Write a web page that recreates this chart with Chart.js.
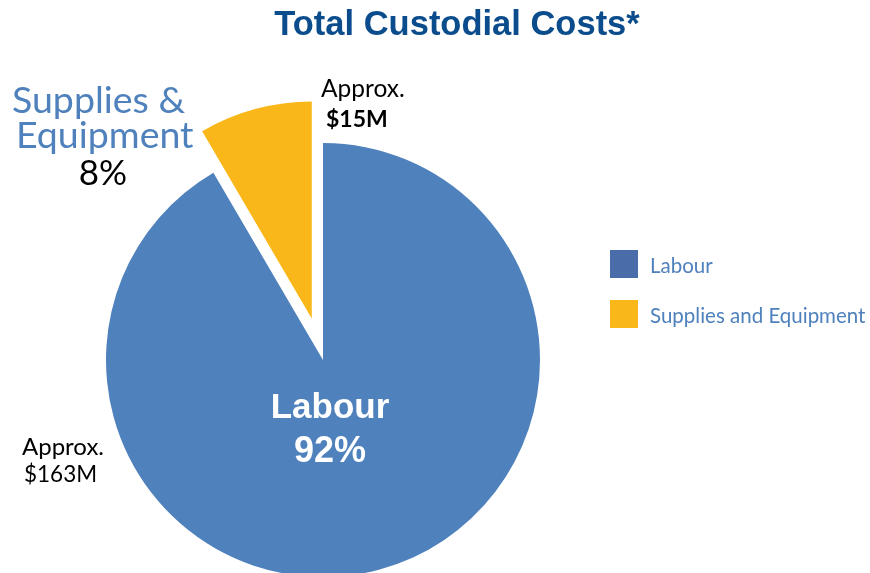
<!DOCTYPE html>
<html>
<head>
<meta charset="utf-8">
<title>Total Custodial Costs</title>
<script src="https://cdn.jsdelivr.net/npm/chart.js@4/dist/chart.umd.min.js"></script>
<style>
  html, body { margin: 0; padding: 0; background: #fff; }
  #wrap { width: 870px; height: 573px; position: relative; }
</style>
</head>
<body>
<div id="wrap"><canvas id="costChart" width="870" height="573"></canvas></div>
<script>
// annual custodial costs, $ millions
const categories = ['Labour', 'Supplies and Equipment'];
const costs = [163, 15];
const sliceColours = ['#4F81BD', '#FAB719'];
const legendColours = ['#4A6CA8', '#FAB719'];
// how far each slice is pulled out from the centre, px
const explode = [0, 43];

const total = costs.reduce((a, b) => a + b, 0);
const shares = costs.map(v => Math.round(v / total * 100));

const sans = '"Liberation Sans", Arial, sans-serif';
const body = 'Lato, "Open Sans", sans-serif';

function txt(ctx, s, x, y, font, color, align) {
    ctx.font = font;
    ctx.fillStyle = color;
    ctx.textAlign = align || 'left';
    ctx.textBaseline = 'alphabetic';
    ctx.fillText(s, x, y);
}

// Chart.js' own `offset` also grows the radius of the slice, so pull
// slices out by shifting the arc centre along its mid angle instead
const explodePlugin = {
    id: 'explode',
    beforeDatasetsDraw(chart) {
        chart.getDatasetMeta(0).data.forEach((arc, i) => {
            const mid = (arc.startAngle + arc.endAngle) / 2;
            arc._home = { x: arc.x, y: arc.y };
            arc.x += Math.cos(mid) * explode[i];
            arc.y += Math.sin(mid) * explode[i];
        });
    },
    afterDatasetsDraw(chart) {
        chart.getDatasetMeta(0).data.forEach(arc => {
            if (arc._home) {
                arc.x = arc._home.x;
                arc.y = arc._home.y;
                delete arc._home;
            }
        });
    }
};

// title, legend and the slice callouts
const labelsPlugin = {
    id: 'costLabels',
    afterDraw(chart) {
        const ctx = chart.ctx;
        ctx.save();
        txt(ctx, 'Total Custodial Costs*', 457, 35, 'bold 34.5px ' + sans, '#0B4C8C', 'center');

        // supplies callout
        txt(ctx, 'Supplies &', 12, 113, '37.5px ' + body, '#4F81BD');
        txt(ctx, 'Equipment', 16, 148, '37.5px ' + body, '#4F81BD');
        txt(ctx, shares[1] + '%', 103, 185, '35px ' + body, '#000', 'center');
        txt(ctx, 'Approx.', 321, 97, '24.5px ' + body, '#000');
        txt(ctx, '$' + costs[1] + 'M', 326, 127, 'bold 23px ' + body, '#000');

        // labour callout
        txt(ctx, 'Approx.', 22, 455, '24px ' + body, '#000');
        txt(ctx, '$' + costs[0] + 'M', 24, 482, '22.5px ' + body, '#000');
        txt(ctx, categories[0], 330, 418, 'bold 35px ' + sans, '#fff', 'center');
        txt(ctx, shares[0] + '%', 330, 462, 'bold 36px ' + sans, '#fff', 'center');

        // legend
        categories.forEach((c, i) => {
            const y = 250 + i * 50;
            ctx.fillStyle = legendColours[i];
            ctx.fillRect(610, y, 28, 28);
            txt(ctx, c, 650, y + 23, '20.5px ' + body, '#4F81BD');
        });
        ctx.restore();
    }
};

new Chart(document.getElementById('costChart'), {
    type: 'pie',
    data: {
        labels: categories,
        datasets: [{
            data: costs,
            backgroundColor: sliceColours,
            borderWidth: 0,
            radius: 217,
            clip: false
        }]
    },
    options: {
        responsive: false,
        animation: false,
        layout: { padding: { left: 0, right: 224, top: 147, bottom: 0 } },
        plugins: {
            legend: { display: false },
            title: { display: false },
            tooltip: { enabled: false }
        }
    },
    plugins: [explodePlugin, labelsPlugin]
});
</script>
</body>
</html>
